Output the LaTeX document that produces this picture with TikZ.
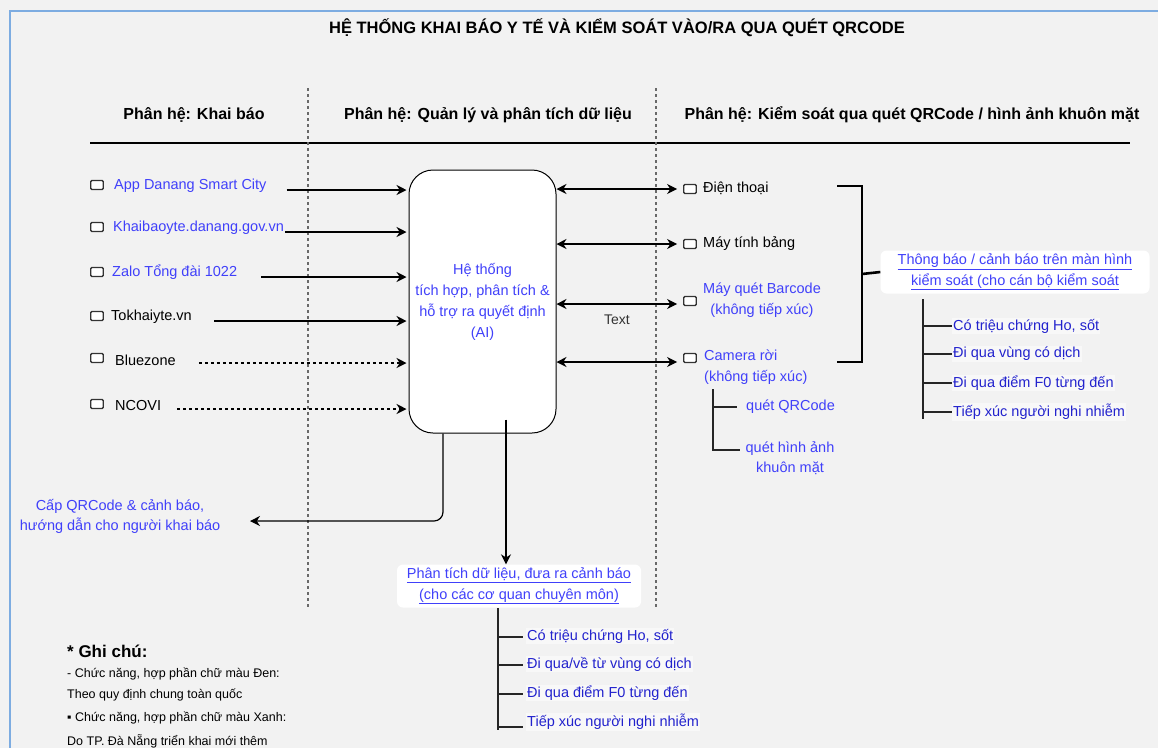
\documentclass[tikz,border=0pt]{standalone}
\usepackage{fontspec}
\setmainfont{Liberation Sans}
\usetikzlibrary{positioning,arrows.meta,calc}
\definecolor{canvas}{RGB}{242,242,242}
\definecolor{framebl}{RGB}{125,172,225}
\definecolor{itemblue}{RGB}{64,64,250}
\definecolor{deepblue}{RGB}{34,34,205}
\definecolor{sepgray}{RGB}{105,105,105}
\tikzset{
  item/.style={anchor=west, inner sep=1pt, font=\fontsize{14.5}{17}\selectfont},
  blueitem/.style={item, text=itemblue},
  chk/.style={draw=black!80, fill=white, line width=1.4pt, rounded corners=1.2pt,
    minimum width=12.5pt, minimum height=9pt, inner sep=0pt},
  header/.style={font=\bfseries\fontsize{16}{19}\selectfont},
  core/.style={draw, line width=1pt, fill=white, rounded corners=24pt,
    minimum width=147pt, minimum height=263pt, align=center, text=itemblue,
    font=\fontsize{14.5}{21}\selectfont},
  linkbox/.style={fill=white, rounded corners=6pt, align=center, text=itemblue,
    font=\fontsize{14.5}{20.5}\selectfont, inner sep=2pt},
  leaf/.style={anchor=west, fill=white!45!canvas, inner sep=1pt, text=deepblue,
    font=\fontsize{14.5}{17}\selectfont},
  arrow/.style={-{Stealth[length=10pt,width=10pt]}, line width=1.2pt},
  dotarrow/.style={arrow, dash pattern=on 3pt off 3pt},
  twoway/.style={{Stealth[length=10pt,width=10pt]}-{Stealth[length=10pt,width=10pt]}, line width=1.2pt},
  bracket/.style={line width=2.6pt},
  twig/.style={line width=1.4pt, black!85},
  sep/.style={sepgray, line width=1.5pt, dash pattern=on 3pt off 3pt},
  note/.style={anchor=west, inner sep=0pt, font=\fontsize{12.5}{15}\selectfont}
}

\begin{document}
\begin{tikzpicture}[x=1pt, y=-1pt]
  % canvas and frame
  \fill[canvas] (0,0) rectangle (1158,748);
  \useasboundingbox (0,0) rectangle (1158,748);
  \draw[framebl, line width=2pt] (1158,11) -- (10,11) -- (10,748);

  % title and columns
  \node[font=\bfseries\fontsize{16.5}{19}\selectfont] (title) at (617,28)
       {HỆ THỐNG KHAI BÁO Y TẾ VÀ KIỂM SOÁT VÀO/RA QUA QUÉT QRCODE};
  \node[header] (hdecl) at (194,115) {Phân hệ: Khai báo};
  \node[header] (hdata) at (488,115) {Phân hệ: Quản lý và phân tích dữ liệu};
  \node[header] (hctrl) at (912,115) {Phân hệ: Kiểm soát qua quét QRCode / hình ảnh khuôn mặt};
  \draw[line width=2pt] (90,143) -- (1130,143);
  \draw[sep] (308,88) -- (308,608);
  \draw[sep] (656,88) -- (656,608);

  % core system
  \node[core] (ai) at (482.5,301.5)
       {Hệ thống\\tích hợp, phân tích \&\\hỗ trợ ra quyết định\\(AI)};

  % declaration channels
  \node[chk] (c1) at (97,185) {};
  \node[chk] (c2) at (97,227) {};
  \node[chk] (c3) at (97,272) {};
  \node[chk] (c4) at (97,316) {};
  \node[chk] (c5) at (97,358) {};
  \node[chk] (c6) at (97,404) {};
  \node[blueitem] (app) at (113,186) {App Danang Smart City};
  \node[blueitem] (kbyt) at (112,228) {Khaibaoyte.danang.gov.vn};
  \node[blueitem] (zalo) at (111,272) {Zalo Tổng đài 1022};
  \node[item] (tokhai) at (110,317) {Tokhaiyte.vn};
  \node[item] (bluez) at (114,360) {Bluezone};
  \node[item] (ncovi) at (114,405) {NCOVI};

  \draw[arrow] ($(app.east)+(19,4)$) -- ($(app.east -| ai.west)+(-2,4)$);
  \draw[arrow] ($(kbyt.east)+(0,4)$) -- ($(kbyt.east -| ai.west)+(-2,4)$);
  \draw[arrow] ($(zalo.east)+(23,5)$) -- ($(zalo.east -| ai.west)+(-2,5)$);
  \draw[arrow] ($(tokhai.east)+(21,4)$) -- ($(tokhai.east -| ai.west)+(-2,4)$);
  \draw[dotarrow] ($(bluez.east)+(22,3)$) -- ($(bluez.east -| ai.west)+(-2,3)$);
  \draw[dotarrow] ($(ncovi.east)+(15,4)$) -- ($(ncovi.east -| ai.west)+(-2,4)$);

  % control devices
  \node[chk] (d1) at (690,189) {};
  \node[chk] (d2) at (690,244) {};
  \node[chk] (d3) at (690,301) {};
  \node[chk] (d4) at (690,358) {};
  \node[item] (phone) at (702,188) {Điện thoại};
  \node[item] (tablet) at (702,244) {Máy tính bảng};
  \node[blueitem, anchor=center, align=center, font=\fontsize{14.5}{21}\selectfont] (barcode) at (762,300)
       {Máy quét Barcode\\(không tiếp xúc)};
  \node[blueitem, align=left, font=\fontsize{14.5}{21}\selectfont] (camera) at (703,367)
       {Camera rời\\(không tiếp xúc)};

  \draw[twoway] (ai.east |- d1) -- ([xshift=-6pt]d1.west);
  \draw[twoway] (ai.east |- d2) -- ([xshift=-6pt]d2.west);
  \draw[twoway] ($(ai.east |- d3)+(0,3)$) -- ($(d3.west)+(-6,3)$);
  \draw[twoway] ($(ai.east |- d4)+(0,4)$) -- ($(d4.west)+(-6,4)$);
  \node[font=\fontsize{14}{17}\selectfont, text=black!80] (txt) at (617,320) {Text};

  % camera modes
  \node[blueitem] (qrscan) at (745,407) {quét QRCode};
  \node[blueitem, anchor=center, align=center, font=\fontsize{14.5}{20}\selectfont] (facescan) at (790,458)
       {quét hình ảnh\\khuôn mặt};
  \coordinate (camroot) at (713,389);
  \draw[twig] (camroot) |- ($(facescan.west)+(-4,-8)$);
  \draw[twig] (camroot |- qrscan) -- ($(qrscan.west)+(-8,0)$);

  % on-screen alerts
  \coordinate (brtop) at (837,186);
  \coordinate (brbot) at (837,362);
  \node[linkbox, minimum width=269pt, minimum height=43pt] (notice) at (1015,272)
       {\underline{Thông báo / cảnh báo trên màn hình}\\\underline{kiểm soát (cho cán bộ kiểm soát}};
  \draw[bracket] (brtop) -- ++(25,0) |- (brbot);
  \draw[bracket] ($(brtop)!0.5!(brbot)+(25,0)$) -- (notice.west);

  \node[leaf] (a1) at (952,326) {Có triệu chứng Ho, sốt};
  \node[leaf] (a2) at (952,354) {Đi qua vùng có dịch};
  \node[leaf] (a3) at (952,383) {Đi qua điểm F0 từng đến};
  \node[leaf] (a4) at (952,412) {Tiếp xúc người nghi nhiễm};
  \coordinate (aroot) at (923,299);
  \draw[twig] (aroot) -- ($(aroot |- a4)+(0,7)$);
  \draw[twig] (aroot |- a1) -- (a1.west);
  \draw[twig] (aroot |- a2) -- (a2.west);
  \draw[twig] (aroot |- a3) -- (a3.west);
  \draw[twig] (aroot |- a4) -- (a4.west);

  % feedback to the declarant
  \node[blueitem, anchor=center, align=center, font=\fontsize{14.5}{20}\selectfont] (qrnote) at (120,516)
       {Cấp QRCode \& cảnh báo,\\hướng dẫn cho người khai báo};
  \coordinate (qrtip) at (250,521);
  \draw[arrow, rounded corners=9pt] ([xshift=-39.5pt]ai.south) |- (qrtip);

  % analysis for the authorities
  \node[linkbox, minimum width=244pt, minimum height=43pt] (analysis) at (519,586)
       {\underline{Phân tích dữ liệu, đưa ra cảnh báo}\\\underline{(cho các cơ quan chuyên môn)}};
  \coordinate (aitap) at ([xshift=23.5pt,yshift=14pt]ai.south);
  \draw[arrow] (aitap) -- (aitap |- analysis.north);

  \node[leaf] (b1) at (526,636) {Có triệu chứng Ho, sốt};
  \node[leaf] (b2) at (526,664) {Đi qua/về từ vùng có dịch};
  \node[leaf] (b3) at (526,693) {Đi qua điểm F0 từng đến};
  \node[leaf] (b4) at (526,722) {Tiếp xúc người nghi nhiễm};
  \coordinate (broot) at (498,608);
  \draw[twig] (broot) -- ($(broot |- b4)+(0,8)$);
  \draw[twig] ($(broot |- b1)+(0,1)$) -- ($(b1.west)+(-3,1)$);
  \draw[twig] ($(broot |- b2)+(0,1)$) -- ($(b2.west)+(-3,1)$);
  \draw[twig] ($(broot |- b3)+(0,1)$) -- ($(b3.west)+(-3,1)$);
  \draw[twig] ($(broot |- b4)+(0,5)$) -- ($(b4.west)+(-3,5)$);

  % notes
  \node[note, font=\bfseries\fontsize{17}{20}\selectfont] (ghichu) at (67,651) {* Ghi chú:};
  \node[note] (n1) at (67,674) {- Chức năng, hợp phần chữ màu Đen:};
  \node[note] (n2) at (67,695) {Theo quy định chung toàn quốc};
  \node[note] (n3) at (67,718) {▪ Chức năng, hợp phần chữ màu Xanh:};
  \node[note] (n4) at (67,741) {Do TP. Đà Nẵng triển khai mới thêm};
\end{tikzpicture}
\end{document}
